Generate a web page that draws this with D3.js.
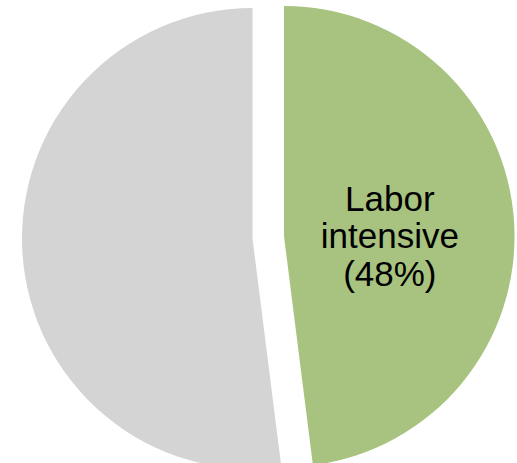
<!DOCTYPE html>
<html>
<head>
<meta charset="utf-8">
<script src="https://cdn.jsdelivr.net/npm/d3@7/dist/d3.min.js"></script>
<style>
  html, body { margin: 0; padding: 0; background: #ffffff; }
  svg { display: block; }
</style>
</head>
<body>
<svg id="chart" width="517" height="463"></svg>
<script>
// Share of employment by industry type
const categories = ["Labor intensive", "Other"];
const shares = [48, 52];
const labels = ["Labor intensive", null];   // only the highlighted slice is labelled
const colors = ["#a8c37f", "#d4d4d4"];
const exploded = [true, false];

const width = 517, height = 463;
const cx = 252.5, cy = 238.5, radius = 230.5, explodeBy = 31.6;

const svg = d3.select("#chart");
const g = svg.append("g").attr("transform", `translate(${cx},${cy})`);

const data = categories.map((c, i) => ({
  category: c, value: shares[i], label: labels[i], color: colors[i], exploded: exploded[i]
}));

const pie = d3.pie().value(d => d.value).sort(null).startAngle(0).endAngle(2 * Math.PI);
const arc = d3.arc().innerRadius(0).outerRadius(radius);
const labelArc = d3.arc().innerRadius(106).outerRadius(106);

const arcs = pie(data);

const slice = g.selectAll("g.slice")
  .data(arcs)
  .join("g")
  .attr("class", "slice")
  .attr("transform", d => {
    if (!d.data.exploded) return null;
    const mid = (d.startAngle + d.endAngle) / 2;
    return `translate(${Math.sin(mid) * explodeBy},${-Math.cos(mid) * explodeBy})`;
  });

slice.append("path")
  .attr("d", arc)
  .attr("fill", d => d.data.color);

const lineH = 37.5;
slice.filter(d => d.data.label)
  .append("text")
  .attr("transform", d => {
    const [x, y] = labelArc.centroid(d);
    return `translate(${x},${y})`;
  })
  .attr("text-anchor", "middle")
  .attr("font-family", "'Liberation Sans', Arial, sans-serif")
  .attr("font-size", 35)
  .attr("fill", "#000")
  .each(function(d) {
    const words = d.data.label.split(" ");
    const lines = [...words, `(${d.data.value}%)`];
    const t = d3.select(this);
    lines.forEach((ln, i) => {
      t.append("tspan")
        .attr("x", 0)
        .attr("y", -19 + i * lineH)
        .text(ln);
    });
  });
</script>
</body>
</html>
